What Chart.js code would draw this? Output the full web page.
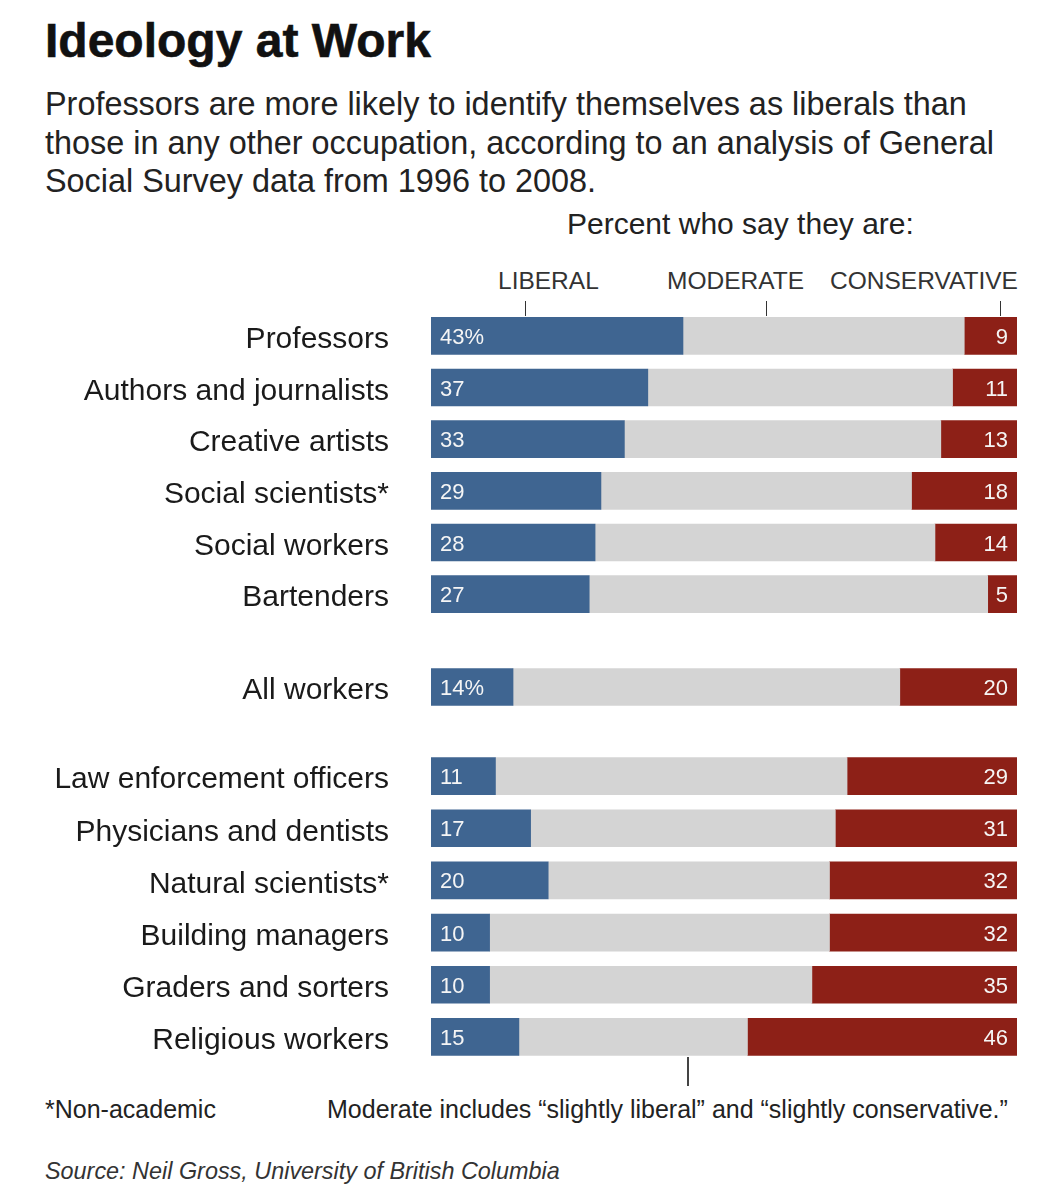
<!DOCTYPE html>
<html>
<head>
<meta charset="utf-8">
<script src="https://cdn.jsdelivr.net/npm/chart.js@4.4.1/dist/chart.umd.min.js"></script>
<style>
  html, body { margin: 0; padding: 0; background: #fff; }
  body { width: 1059px; height: 1200px; position: relative; overflow: hidden;
         font-family: 'Liberation Sans', Arial, Helvetica, sans-serif; color: #1a1a1a; }
  .t { position: absolute; white-space: nowrap; line-height: 1; }
  canvas { position: absolute; left: 0; }
  .tick { position: absolute; width: 1px; background: #333; }
</style>
</head>
<body>
<div class="t" id="title" style="left:45px; top:17px; font-size:48px; font-weight:bold; color:#111; -webkit-text-stroke:0.6px #111;">Ideology at Work</div>
<div class="t" style="left:45px; top:85px; font-size:32.4px; line-height:38.5px; color:#222;">Professors are more likely to identify themselves as liberals than<br>those in any other occupation, according to an analysis of General<br>Social Survey data from 1996 to 2008.</div>
<div class="t" style="left:567px; top:209px; font-size:30px; color:#222;">Percent who say they are:</div>
<div class="t" style="left:498px; top:269px; font-size:24.5px; color:#333;">LIBERAL</div>
<div class="t" style="left:667px; top:269px; font-size:24.5px; color:#333;">MODERATE</div>
<div class="t" style="left:830px; top:269px; width:188px; overflow:hidden; font-size:24.5px; color:#333;">CONSERVATIVE</div>
<div class="tick" style="left:525px; top:301px; height:15px;"></div>
<div class="tick" style="left:766px; top:301px; height:15px;"></div>
<div class="tick" style="left:1000px; top:301px; height:15px;"></div>

<canvas id="c1" width="1059" height="310" style="top:310px;"></canvas>
<canvas id="c2" width="1059" height="52" style="top:661px;"></canvas>
<canvas id="c3" width="1059" height="313" style="top:750px;"></canvas>

<div class="tick" style="left:687px; top:1057px; height:29px; width:1.5px; background:#444;"></div>
<div class="t" style="left:45px; top:1097px; font-size:25px; color:#222;">*Non-academic</div>
<div class="t" style="left:327px; top:1097px; font-size:25px; color:#222;">Moderate includes “slightly liberal” and “slightly conservative.”</div>
<div class="t" style="left:45px; top:1160px; font-size:23.4px; font-style:italic; color:#333;">Source: Neil Gross, University of British Columbia</div>

<script>
// ---- Data ----
const categories = [
  'Professors', 'Authors and journalists', 'Creative artists', 'Social scientists*',
  'Social workers', 'Bartenders',
  'All workers',
  'Law enforcement officers', 'Physicians and dentists', 'Natural scientists*',
  'Building managers', 'Graders and sorters', 'Religious workers'
];
const liberal      = [43, 37, 33, 29, 28, 27, 14, 11, 17, 20, 10, 10, 15];
const moderate     = [48, 52, 54, 53, 58, 68, 66, 60, 52, 48, 58, 55, 39];
const conservative = [ 9, 11, 13, 18, 14,  5, 20, 29, 31, 32, 32, 35, 46];
const percentRows  = ['Professors', 'All workers'];
const groups = [[0, 6], [6, 7], [7, 13]];

// ---- Styling ----
const BLUE = '#3f6591', GRAY = '#d4d4d4', RED = '#8d2017';
const FONT = "'Liberation Sans', Arial, Helvetica, sans-serif";

const valueLabels = {
  id: 'valueLabels',
  afterDatasetsDraw(chart) {
    const ctx = chart.ctx;
    const labels = chart.data.labels;
    ctx.save();
    ctx.font = '22px ' + FONT;
    ctx.fillStyle = '#f5f5f5';
    ctx.textBaseline = 'middle';
    [0, 2].forEach(di => {
      const meta = chart.getDatasetMeta(di);
      const vals = chart.data.datasets[di].data;
      meta.data.forEach((bar, i) => {
        let txt = String(vals[i]);
        if (di === 0) {
          if (percentRows.includes(labels[i])) txt += '%';
          ctx.textAlign = 'left';
          ctx.fillText(txt, Math.min(bar.base, bar.x) + 9, bar.y + 2);
        } else {
          ctx.textAlign = 'right';
          ctx.fillText(txt, Math.max(bar.base, bar.x) - 9, bar.y + 2);
        }
      });
    });
    ctx.restore();
  }
};

function makeChart(id, start, end) {
  const labs = categories.slice(start, end);
  new Chart(document.getElementById(id), {
    type: 'bar',
    data: {
      labels: labs,
      datasets: [
        { label: 'Liberal', data: liberal.slice(start, end), backgroundColor: BLUE },
        { label: 'Moderate', data: moderate.slice(start, end), backgroundColor: GRAY },
        { label: 'Conservative', data: conservative.slice(start, end), backgroundColor: RED }
      ]
    },
    options: {
      indexAxis: 'y',
      responsive: false,
      animation: false,
      devicePixelRatio: 1,
      layout: { padding: { left: 0, right: 42, top: 0, bottom: 0 } },
      datasets: { bar: { barThickness: 37, borderWidth: 0 } },
      plugins: { legend: { display: false }, tooltip: { enabled: false } },
      scales: {
        x: { type: 'linear', stacked: true, min: 0, max: 100, display: false },
        y: {
          stacked: true,
          grid: { display: false, drawTicks: false },
          border: { display: false },
          ticks: { font: { size: 30, family: FONT }, color: '#1a1a1a', padding: 42, labelOffset: 4 },
          afterFit(scale) {
            scale.width = 431;
            scale.paddingTop = 0;
            scale.paddingBottom = 0;
          }
        }
      }
    },
    plugins: [valueLabels]
  });
}

makeChart('c1', groups[0][0], groups[0][1]);
makeChart('c2', groups[1][0], groups[1][1]);
makeChart('c3', groups[2][0], groups[2][1]);
</script>
</body>
</html>
